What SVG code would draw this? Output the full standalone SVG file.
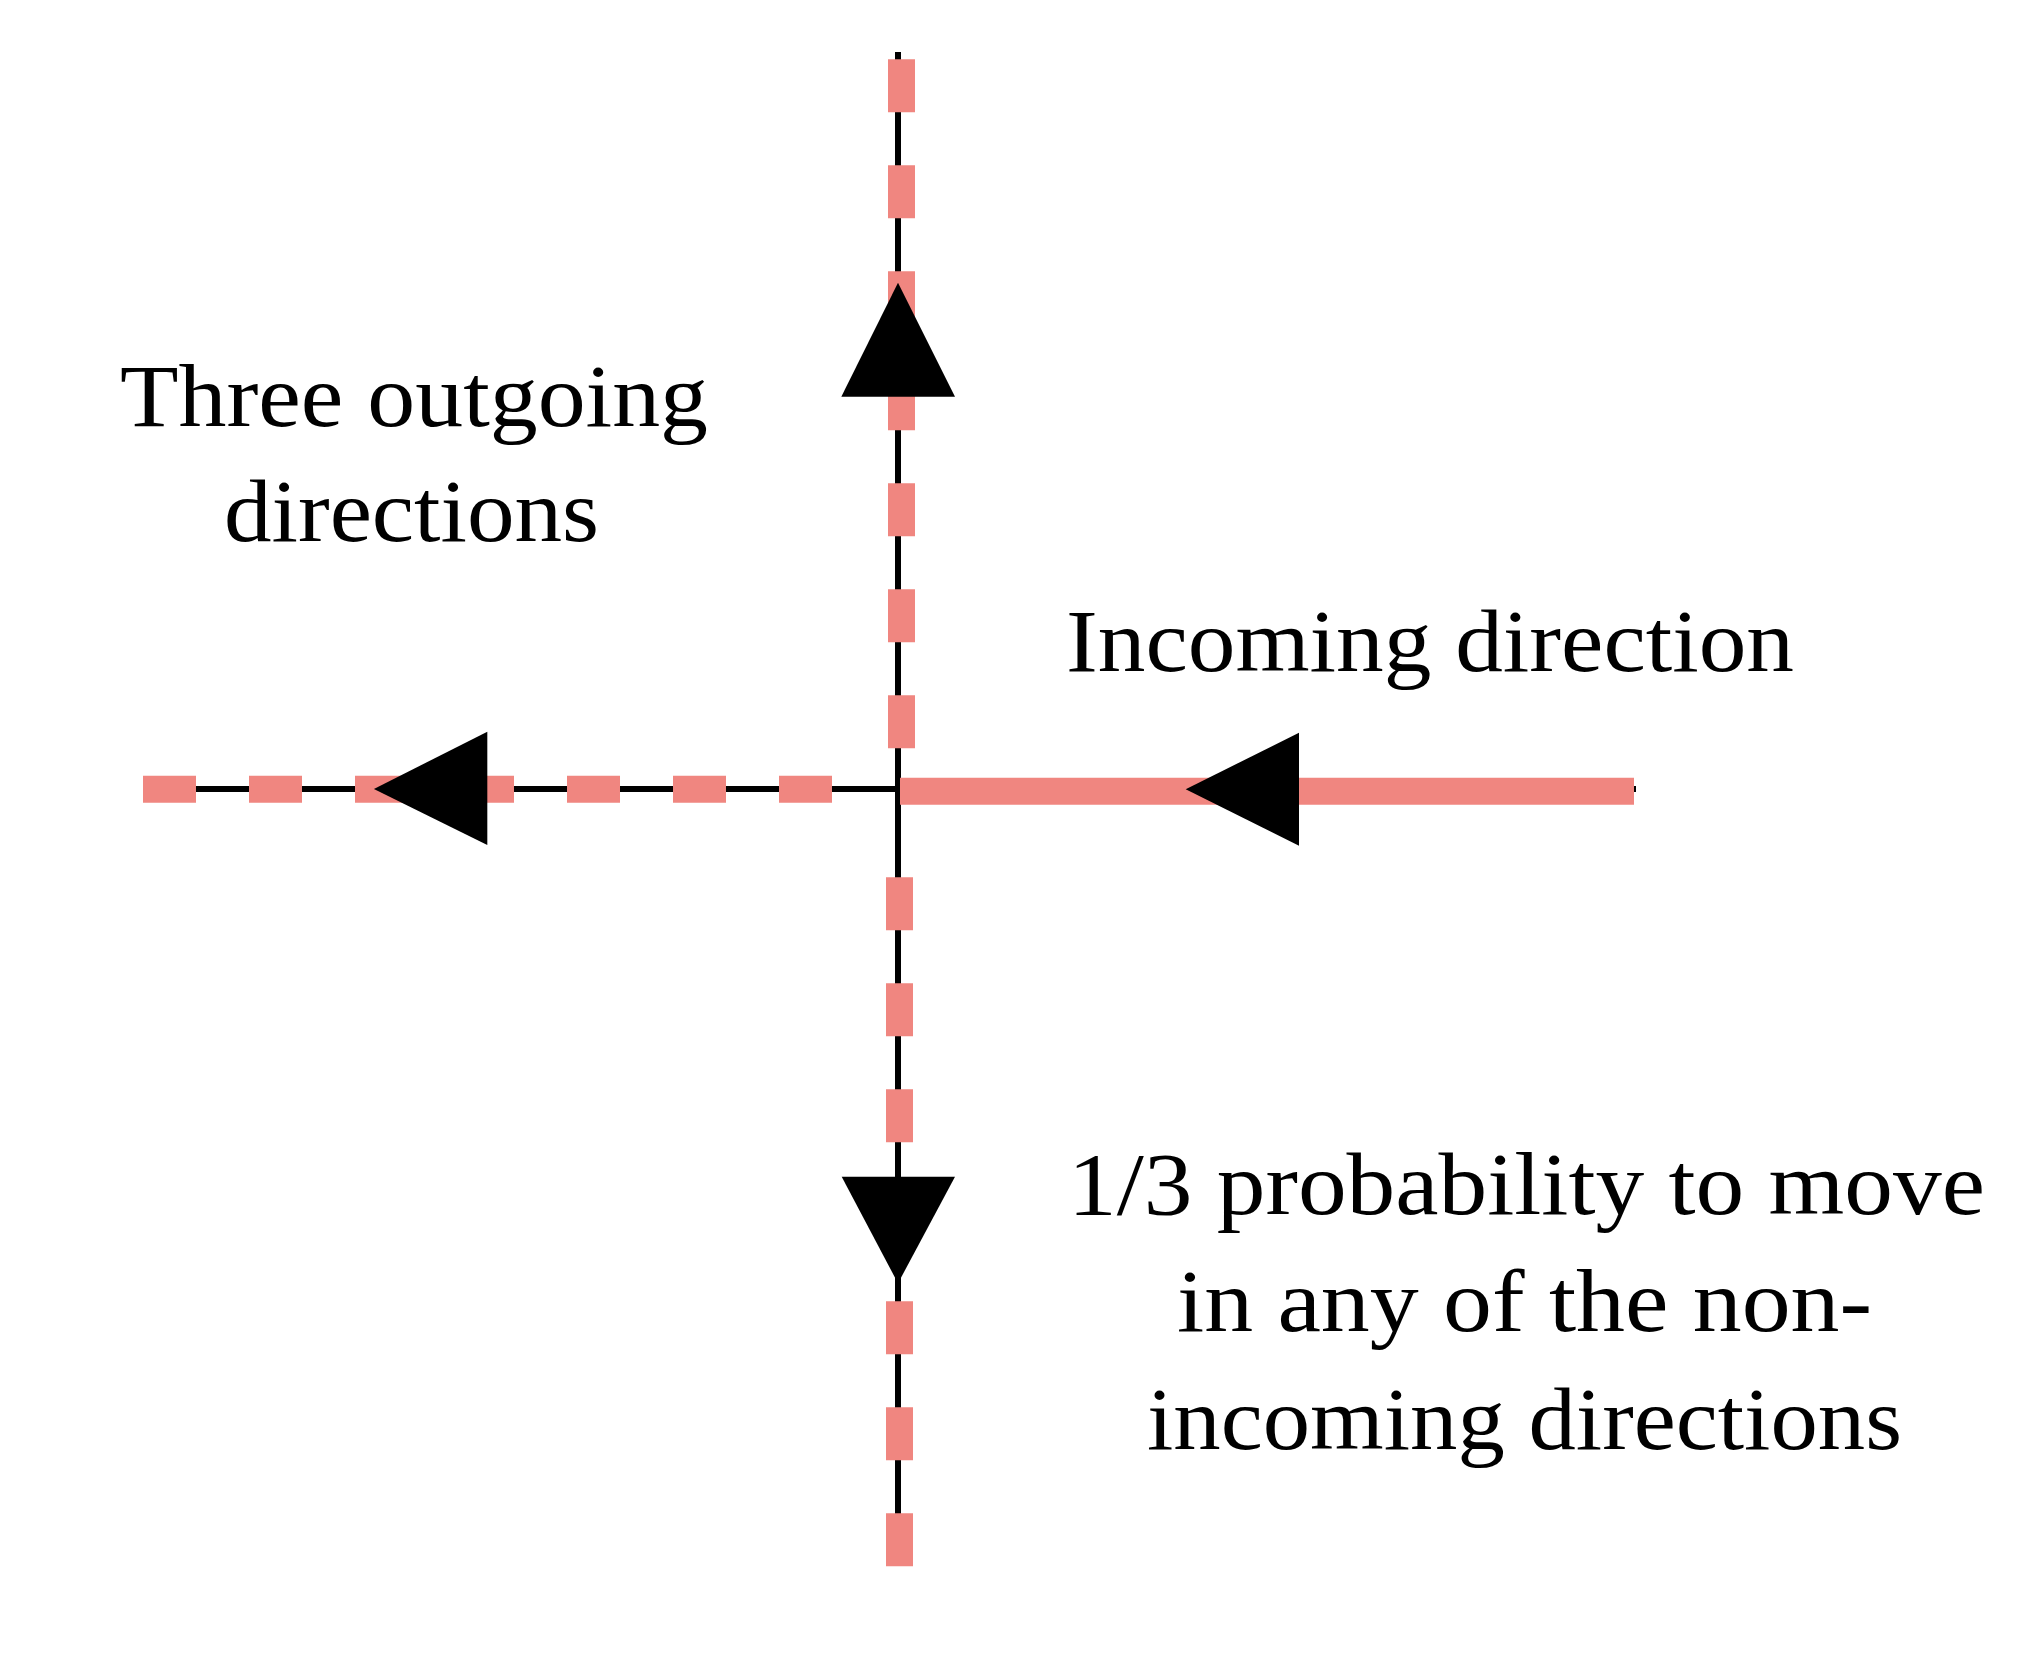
<svg xmlns="http://www.w3.org/2000/svg" width="2042" height="1666" viewBox="0 0 2042 1666">
<style>
.axis{stroke:#000;stroke-width:6;fill:none;stroke-linecap:butt}
.dash{stroke:#F08680;stroke-width:27;fill:none;stroke-dasharray:53 53;stroke-linecap:butt}
.solid{stroke:#F08680;stroke-width:27;fill:none;stroke-linecap:butt}
.head{fill:#000}
.lbl{font-family:"Liberation Serif","DejaVu Serif",serif;font-size:88px;fill:#000}
</style>
<rect width="2042" height="1666" fill="#fff"/>
<g id="connectors">
  <line class="axis" x1="898" y1="52" x2="898" y2="1540"/>
  <line class="axis" x1="143" y1="789" x2="1636" y2="789"/>
  <line class="dash" x1="901.5" y1="59.3" x2="901.5" y2="789"/>
  <line class="dash" x1="899.5" y1="877.3" x2="899.5" y2="1567"/>
  <line class="dash" x1="832" y1="789.3" x2="143" y2="789.3"/>
  <line class="solid" x1="900" y1="791.3" x2="1634" y2="791.3"/>
  <polygon class="head" points="898,282.7 841.3,396.7 955,396.7"/>
  <polygon class="head" points="898,1283.3 841.7,1176.7 955,1176.7"/>
  <polygon class="head" points="373.9,789 487.3,731.7 487.3,845"/>
  <polygon class="head" points="1185.7,789.3 1299,732.7 1299,845.7"/>
</g>
<g id="label-outgoing">
  <text class="lbl" x="120" y="426" textLength="588" lengthAdjust="spacingAndGlyphs">Three outgoing</text>
  <text class="lbl" x="224" y="541" textLength="375" lengthAdjust="spacingAndGlyphs">directions</text>
</g>
<g id="label-incoming">
  <text class="lbl" x="1066" y="671" textLength="728" lengthAdjust="spacingAndGlyphs">Incoming direction</text>
</g>
<g id="label-probability">
  <text class="lbl" x="1068" y="1214" textLength="917" lengthAdjust="spacingAndGlyphs">1/3 probability to move</text>
  <text class="lbl" x="1177" y="1331" textLength="695" lengthAdjust="spacingAndGlyphs">in any of the non-</text>
  <text class="lbl" x="1147" y="1449" textLength="755" lengthAdjust="spacingAndGlyphs">incoming directions</text>
</g>
</svg>
